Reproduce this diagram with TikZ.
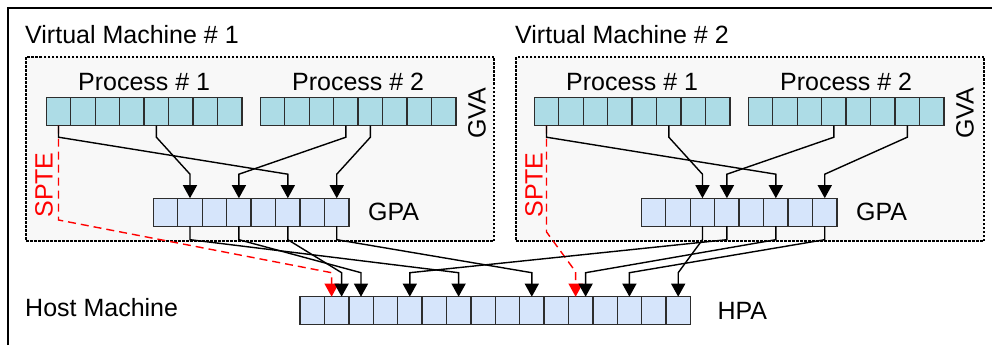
\documentclass[tikz,border=0pt]{standalone}
\usepackage{fontspec}
\setmainfont{Liberation Sans}
\usetikzlibrary{arrows.meta, positioning}
\definecolor{gvafill}{RGB}{173, 220, 230}
\definecolor{pafill}{RGB}{214, 229, 251}
\definecolor{vmbg}{RGB}{248, 248, 248}
\definecolor{cellline}{RGB}{45, 45, 45}

\begin{document}
\begin{tikzpicture}[x=1pt, y=-1pt,
	big/.style={font=\fontsize{25}{29}\selectfont, inner sep=0pt},
	cell/.style={rectangle, draw=cellline, line width=1.4pt, minimum width=24.46pt,
		minimum height=28pt, inner sep=0pt, outer sep=0pt},
	gvacell/.style={cell, fill=gvafill},
	pacell/.style={cell, fill=pafill},
	vmbox/.style={rectangle, draw, fill=vmbg, dash pattern=on 2.5pt off 1.5pt,
		line width=1.2pt, minimum width=468pt, minimum height=184pt, inner sep=0pt},
	link/.style={-{Triangle[length=13pt, width=14pt]}, line width=1.4pt},
	spte/.style={link, red, dash pattern=on 8pt off 5pt}]
	
	\useasboundingbox (0,0) rectangle (992,345);
	\draw[line width=1.5pt] (8,345) -- (8,8) -- (992,8);
	
	% the two guests
	\foreach \v/\dx/\bx in {1/0/0, 2/488/490} {
		\node[vmbox] (vm\v) at (260+\bx,149) {};
		\node[big, anchor=base west] (title\v) at (25+\bx,44) {Virtual Machine \# \v};
		\node[big, anchor=base] (procA\v) at (144.15+\dx,90) {Process \# 1};
		\node[big, anchor=base] (procB\v) at (358.15+\dx,90) {Process \# 2};
		\foreach \i in {0,...,7} {
			\node[gvacell] (pa\v-\i) at (58.53+\dx+24.46*\i,111.7) {};
			\node[gvacell] (pb\v-\i) at (272.53+\dx+24.46*\i,111.7) {};
			\node[pacell] (gpa\v-\i) at (165.53+\dx+24.46*\i,212.2) {};
		}
		\node[big, rotate=90] (gva\v) at (477+\dx,113) {GVA};
		\node[big, right=19pt of gpa\v-7] (gpal\v) {GPA};
		\node[big, rotate=90, red] (sptel\v) at (44+\bx,185) {SPTE};
	}
	
	% host
	\foreach \i in {0,...,15}
		\node[pacell, minimum width=24.4pt] (hpa-\i) at (312.2+24.4*\i,310.7) {};
	\node[big, right=27pt of hpa-15] (hpal) {HPA};
	\node[big, anchor=west] (host) at (25,308) {Host Machine};
	
	% shadow page table entries
	\draw[spte] (pa1-0.south) -- ++(0,94.3) -- ([xshift=-5pt, yshift=24pt]hpa-1.north)
		-- ([xshift=-5pt]hpa-1.north);
	\draw[spte] (pa2-0.south) -- ++(0,106.3) -- ([xshift=-5pt, yshift=25pt]hpa-11.north)
		-- ([xshift=-5pt]hpa-11.north);
	
	% GVA -> GPA
	\foreach \s/\t in {pa1-0/gpa1-5, pa1-4/gpa1-1, pb1-3/gpa1-3, pb1-4/gpa1-7,
		pa2-0/gpa2-5, pa2-5/gpa2-2, pb2-3/gpa2-3, pb2-6/gpa2-7}
		\draw[link] (\s.south) -- ++(0,11.5) -- ([yshift=24pt]\t.north) -- (\t.north);
	
	% GPA -> HPA
	\foreach \s/\t/\o in {gpa1-1/hpa-6/0, gpa1-3/hpa-2/0, gpa1-5/hpa-1/5, gpa1-7/hpa-9/0,
		gpa2-2/hpa-15/0, gpa2-3/hpa-4/0, gpa2-5/hpa-11/5, gpa2-7/hpa-13/0}
		\draw[link] (\s.south) -- ++(0,13.5) -- ([xshift=\o pt, yshift=24pt]\t.north)
			-- ([xshift=\o pt]\t.north);
\end{tikzpicture}
\end{document}
